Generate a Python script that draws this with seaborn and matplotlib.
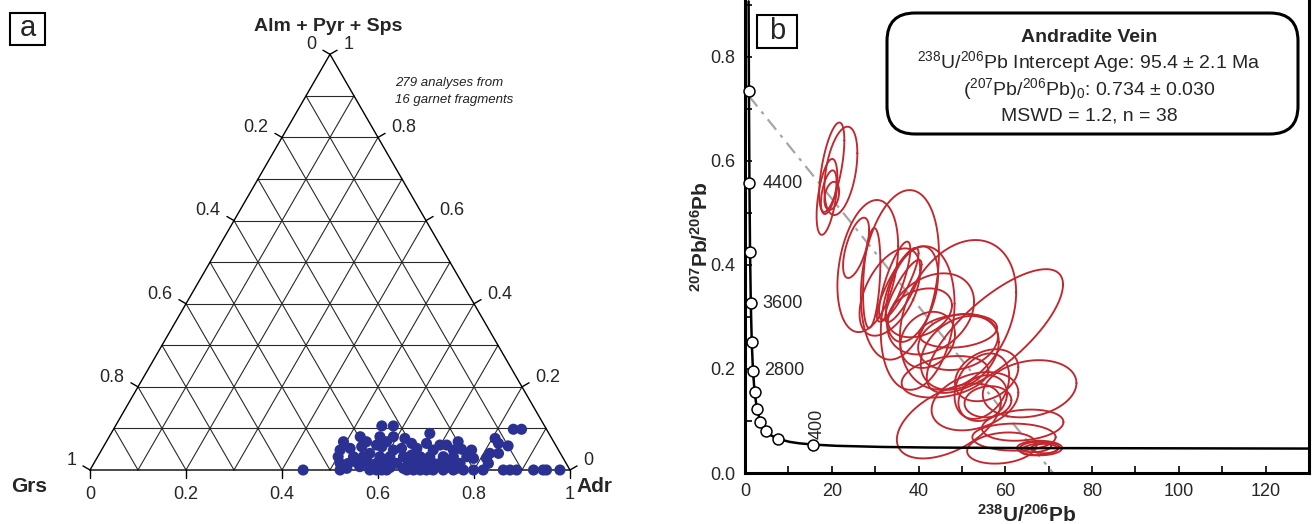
import numpy as np
import matplotlib
matplotlib.use('Agg')
import matplotlib.pyplot as plt
from matplotlib.patches import FancyBboxPatch, Rectangle
from matplotlib.transforms import IdentityTransform
from matplotlib.ticker import MultipleLocator, FormatStrFormatter
import seaborn as sns

sns.set_theme(style='white')
plt.rcParams['font.family'] = ['Liberation Sans', 'DejaVu Sans']
plt.rcParams['mathtext.fontset'] = 'custom'
plt.rcParams['mathtext.rm'] = 'Liberation Sans'
plt.rcParams['mathtext.bf'] = 'Liberation Sans:bold'
plt.rcParams['mathtext.it'] = 'Liberation Sans:italic'

# ---- panel a data: garnet compositions (Adr and Alm+Pyr+Sps fractions)
adr = [0.444, 0.521, 0.583, 0.597, 0.608, 0.618, 0.660, 0.674, 0.688, 0.701,
       0.715, 0.736, 0.757, 0.778, 0.799, 0.819, 0.861, 0.875, 0.889, 0.924,
       0.944, 0.951, 0.979,
       0.555, 0.579, 0.833, 0.850, 0.664, 0.523, 0.564, 0.592, 0.618, 0.494,
       0.542, 0.584, 0.638, 0.669, 0.699, 0.713, 0.733, 0.806, 0.819, 0.842,
       0.497, 0.516, 0.538, 0.567, 0.580, 0.608, 0.623, 0.655, 0.691, 0.733,
       0.749, 0.771, 0.813, 0.831, 0.501, 0.533, 0.553, 0.563, 0.588, 0.609,
       0.637, 0.652, 0.672, 0.692, 0.720, 0.741, 0.769, 0.785, 0.812, 0.513,
       0.530, 0.547, 0.572, 0.589, 0.602, 0.631, 0.655, 0.673, 0.685, 0.707,
       0.721, 0.741, 0.763, 0.822, 0.533, 0.558, 0.588, 0.622, 0.651, 0.672,
       0.706, 0.740, 0.762]
alm = [0.0] * 23 + \
      [0.106, 0.106, 0.098, 0.098, 0.088, 0.080, 0.080, 0.080, 0.076, 0.068,
       0.068, 0.068, 0.064, 0.064, 0.060, 0.060, 0.068, 0.076, 0.064, 0.058,
       0.048, 0.052, 0.056, 0.060, 0.056, 0.048, 0.052, 0.052, 0.048, 0.048,
       0.050, 0.048, 0.040, 0.040, 0.032, 0.032, 0.032, 0.040, 0.032, 0.032,
       0.032, 0.036, 0.032, 0.032, 0.032, 0.032, 0.032, 0.028, 0.028, 0.016,
       0.016, 0.018, 0.016, 0.016, 0.018, 0.016, 0.016, 0.016, 0.018, 0.016,
       0.016, 0.018, 0.016, 0.016, 0.004, 0.008, 0.004, 0.006, 0.004, 0.003,
       0.003, 0.006, 0.004]
tern_ticks = [0, 0.2, 0.4, 0.6, 0.8, 1]
tern_labels = ['0', '0.2', '0.4', '0.6', '0.8', '1']

# ---- panel b data: concordia curve (Tera-Wasserburg) and age markers
conc_x = [0.829, 0.853, 0.905, 1.022, 1.163, 1.337, 1.556, 1.838, 2.217, 2.748,
          3.550, 4.888, 5.959, 7.57, 10.25, 12.40, 15.62, 20.99, 31.73, 42.48,
          63.97, 128.4, 131.0]
conc_y = [0.907, 0.845, 0.735, 0.557, 0.425, 0.326, 0.252, 0.197, 0.155, 0.123,
          0.0987, 0.0801, 0.0725, 0.0658, 0.0599, 0.0572, 0.0547, 0.0523, 0.0501, 0.0490,
          0.0480, 0.0470, 0.0470]
age_x = [0.905, 1.022, 1.163, 1.337, 1.556, 1.838, 2.217, 2.748, 3.550, 4.888, 7.57, 15.62]
age_y = [0.735, 0.557, 0.425, 0.326, 0.252, 0.197, 0.155, 0.123, 0.0987, 0.0801, 0.0658, 0.0547]
age_lab = ['4400', '3600', '2800', '400']
age_lab_x = [4.1, 3.9, 4.5, 16.7]
age_lab_y = [0.557, 0.326, 0.197, 0.066]

disc_x = [0.9, 71.0]
disc_y = [0.725, 0.0]

# ellipses: centre, half-extent in x and y, correlation
ell_x = [22.1, 20.0, 18.9, 19.3, 20.0,
         25.6, 28.3, 35.7, 29.2, 33.4, 35.2, 36.5, 34.5, 38.5, 57.6, 39.8, 49.1,
         42.8, 42.1, 49.5, 54.6, 40.3,
         47.0, 53.0, 46.1, 49.1, 49.1, 55.7, 54.8, 56.0, 65.6, 62.0, 59.2, 64.0,
         67.9, 67.0, 69.0, 68.0]
ell_y = [0.581, 0.588, 0.531, 0.540, 0.533,
         0.433, 0.398, 0.381, 0.375, 0.348, 0.362, 0.350, 0.370, 0.344, 0.273, 0.298, 0.304,
         0.306, 0.256, 0.231, 0.167, 0.308,
         0.100, 0.138, 0.185, 0.252, 0.273, 0.188, 0.144, 0.137, 0.162, 0.069, 0.048, 0.092,
         0.048, 0.050, 0.047, 0.046]
ell_sx = [3.8, 2.9, 2.4, 1.8, 1.7,
          3.0, 7.0, 9.0, 2.0, 7.0, 4.8, 4.2, 3.6, 6.0, 15.7, 8.5, 13.4,
          10.0, 6.3, 9.0, 6.3, 7.4,
          12.0, 10.0, 10.0, 9.2, 9.0, 7.3, 5.6, 5.4, 10.8, 9.6, 8.0, 9.4,
          5.2, 3.6, 3.1, 4.4]
ell_sy = [0.085, 0.086, 0.073, 0.042, 0.027,
          0.058, 0.127, 0.163, 0.096, 0.084, 0.071, 0.060, 0.075, 0.092, 0.119, 0.138, 0.144,
          0.078, 0.054, 0.071, 0.063, 0.047,
          0.072, 0.056, 0.040, 0.054, 0.032, 0.050, 0.044, 0.030, 0.055, 0.026, 0.030, 0.030,
          0.014, 0.010, 0.009, 0.012]
ell_rho = [0.4, 0.6, 0.5, 0.5, 0.3,
           0.6, 0.3, 0.25, 0.3, 0.5, 0.85, 0.85, 0.8, 0.4, 0.75, 0.2, 0.3,
           0.3, 0.2, 0.3, 0.3, 0.3,
           0.5, 0.3, 0.3, 0.2, 0.2, 0.3, 0.2, 0.1, 0.2, 0.0, 0.2, 0.2,
           0.0, 0.2, 0.0, 0.3]

W, H = 1312, 524
fig = plt.figure(figsize=(W / 100, H / 100), dpi=100)

# ================= panel a : ternary =================
ax = fig.add_axes([18 / W, 1.2 / H, 624 / W, 523.2 / H])
h = np.sqrt(3) / 2
grid_c = '#2a2a2a'
for v in np.arange(0.1, 1.0, 0.1):
    ax.plot([v / 2, 1 - v / 2], [v * h, v * h], color=grid_c, lw=0.8)
    ax.plot([v, v + (1 - v) / 2], [0, (1 - v) * h], color=grid_c, lw=0.8)
    ax.plot([1 - v, (1 - v) / 2], [0, (1 - v) * h], color=grid_c, lw=0.8)
ax.plot([0, 1, 0.5, 0], [0, 0, h, 0], color='black', lw=1.0)

L = 0.017
for v, lab in zip(tern_ticks, tern_labels):
    # bottom axis (Adr)
    ax.plot([v, v], [0, -L], color='black', lw=1.0)
    ax.text(v, -0.052, lab, ha='center', va='center', fontsize=13)
for g, lab in zip(tern_ticks[::-1], tern_labels[::-1]):
    # left axis (Grs)
    px, py = (1 - g) / 2, (1 - g) * h
    ax.plot([px, px - L * 0.866], [py, py + L * 0.5], color='black', lw=1.0)
    ax.text(px - 0.028, py + 0.02, lab, ha='right', va='center', fontsize=13)
for t, lab in zip(tern_ticks, tern_labels):
    # right axis (Alm + Pyr + Sps)
    px, py = 1 - t / 2, t * h
    ax.plot([px, px + L * 0.866], [py, py + L * 0.5], color='black', lw=1.0)
    ax.text(px + 0.028, py + 0.02, lab, ha='left', va='center', fontsize=13)

cart_x = np.array(adr) + np.array(alm) / 2
cart_y = np.array(alm) * h
sns.scatterplot(x=cart_x, y=cart_y, color='#2B3192', s=64, edgecolor='none',
                ax=ax, zorder=5, clip_on=False)

ax.text(0.496, 0.923, 'Alm + Pyr + Sps', ha='center', va='center',
        fontsize=14, fontweight='bold')
ax.text(-0.127, -0.035, 'Grs', ha='center', va='center', fontsize=15, fontweight='bold')
ax.text(1.052, -0.035, 'Adr', ha='center', va='center', fontsize=15, fontweight='bold')
ax.text(0.635, 0.806, '279 analyses from', ha='left', va='center',
        fontsize=9.5, style='italic', color='#222222')
ax.text(0.635, 0.771, '16 garnet fragments', ha='left', va='center',
        fontsize=9.5, style='italic', color='#222222')
ax.set_xlim(-0.15, 1.15)
ax.set_ylim(-0.11, 0.98)
ax.axis('off')

# ================= panel b : Tera-Wasserburg =================
bx = fig.add_axes([745 / W, 51 / H, 564 / W, 473 / H])
theta = np.linspace(0, 2 * np.pi, 150)
for cx, cy, sx, sy, r in zip(ell_x, ell_y, ell_sx, ell_sy, ell_rho):
    ex = cx + sx * np.cos(theta)
    ey = cy + sy * (r * np.cos(theta) + np.sqrt(1 - r ** 2) * np.sin(theta))
    bx.plot(ex, ey, color='#C1272D', lw=1.35, zorder=3)

bx.plot(disc_x, disc_y, color='#A6A6A6', lw=1.6, ls=(0, (6, 3, 1.5, 3)), zorder=2)
sns.lineplot(x=conc_x, y=conc_y, sort=False, estimator=None, color='black',
             lw=1.8, ax=bx, zorder=4)
sns.scatterplot(x=age_x, y=age_y, s=62, color='white', edgecolor='black',
                linewidth=1.1, ax=bx, zorder=5, clip_on=False)
for lab, lx, ly in zip(age_lab, age_lab_x, age_lab_y):
    if lab == '400':
        bx.text(lx, ly, lab, rotation=90, ha='center', va='bottom', fontsize=13, zorder=6)
    else:
        bx.text(lx, ly, lab, ha='left', va='center', fontsize=13, zorder=6)

bx.set_xlim(0, 130)
bx.set_ylim(0, 0.9096)
bx.xaxis.set_major_locator(MultipleLocator(20))
bx.xaxis.set_minor_locator(MultipleLocator(10))
bx.yaxis.set_major_locator(MultipleLocator(0.2))
bx.yaxis.set_minor_locator(MultipleLocator(0.1))
bx.yaxis.set_major_formatter(FormatStrFormatter('%.1f'))
bx.tick_params(which='both', direction='in', length=5, width=1.2, color='black',
               bottom=True, left=True, top=False, right=False)
bx.tick_params(which='major', labelsize=13, pad=7)
for side in ['left', 'bottom', 'right']:
    bx.spines[side].set_linewidth(2.2)
    bx.spines[side].set_color('black')
bx.spines['top'].set_visible(False)
bx.set_xlabel(r'$^{\mathbf{238}}\mathbf{U/}^{\mathbf{206}}\mathbf{Pb}$', fontsize=15, labelpad=3)
bx.set_ylabel(r'$^{\mathbf{207}}\mathbf{Pb/}^{\mathbf{206}}\mathbf{Pb}$', fontsize=15, labelpad=-1)

# panel tags
fig.add_artist(Rectangle((10, H - 45), 35, 32, transform=IdentityTransform(),
                         fill=False, ec='black', lw=1.5))
fig.text(27.5 / W, 1 - 28 / H, 'a', ha='center', va='center', fontsize=21)
fig.add_artist(Rectangle((757, H - 48), 40, 33, transform=IdentityTransform(),
                         fc='white', ec='black', lw=1.5, zorder=7))
fig.text(777 / W, 1 - 31 / H, 'b', ha='center', va='center', fontsize=21, zorder=8)

# result box
fig.add_artist(FancyBboxPatch((887, H - 134), 411, 121,
                              boxstyle='round,pad=0,rounding_size=28',
                              transform=IdentityTransform(), fc='white',
                              ec='black', lw=2.2, zorder=7))
box_lines = ['Andradite Vein',
             r'$^{238}$U/$^{206}$Pb Intercept Age: 95.4 ± 2.1 Ma',
             r'($^{207}$Pb/$^{206}$Pb)$_0$: 0.734 ± 0.030',
             'MSWD = 1.2, n = 38']
box_y = [37, 62, 89, 116]
for i, (txt, yy) in enumerate(zip(box_lines, box_y)):
    fig.text(1089 / W, 1 - yy / H, txt, ha='center', va='center', fontsize=14,
             fontweight='bold' if i == 0 else 'normal', zorder=8)

fig.savefig('out.png', dpi=100)
